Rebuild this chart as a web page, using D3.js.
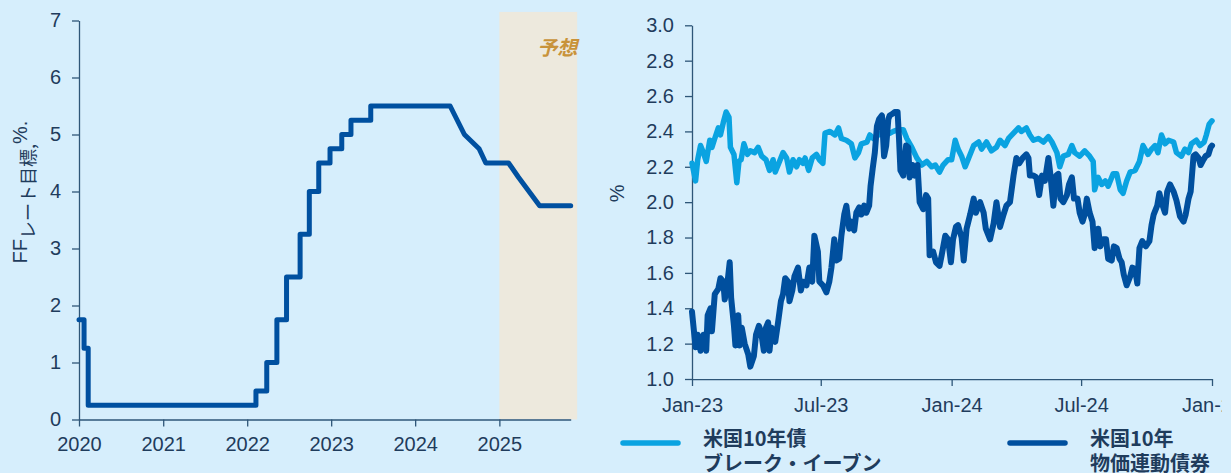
<!DOCTYPE html>
<html>
<head>
<meta charset="utf-8">
<script src="https://cdn.jsdelivr.net/npm/d3@7"></script>
<style>
  body { margin: 0; background: #d6eefc; }
  svg { display: block; font-family: "Liberation Sans", Arial, "Noto Sans CJK JP", sans-serif; }
  .axis .domain, .axis line { stroke: #2e5678; stroke-width: 1.3; }
  .axis text { fill: #1f3c5c; font-size: 20px; font-family: "Liberation Sans", Arial, sans-serif; }
</style>
</head>
<body>
<script>
// FF rate target (left panel), points of the drawn line
const ffDates = ["2020-01-01","2020-01-23","2020-01-23","2020-02-10","2020-02-10","2022-02-08","2022-02-08",
  "2022-03-27","2022-03-27","2022-05-10","2022-05-10","2022-06-21","2022-06-21","2022-08-19","2022-08-19",
  "2022-09-28","2022-09-28","2022-11-08","2022-11-08","2022-12-27","2022-12-27","2023-02-16","2023-02-16",
  "2023-03-28","2023-03-28","2023-06-22","2023-06-22","2024-06-01","2024-08-02","2024-10-05","2024-11-03",
  "2025-02-10","2025-03-25","2025-06-25","2025-11-07"];
const ffRates = [1.75,1.75,1.25,1.25,0.25,0.25,0.5,
  0.5,1.0,1.0,1.75,1.75,2.5,2.5,3.25,
  3.25,4.0,4.0,4.5,4.5,4.75,4.75,5.0,
  5.0,5.25,5.25,5.5,5.5,5.0,4.75,4.5,
  4.5,4.25,3.75,3.75];
const ffYears = [2020, 2021, 2022, 2023, 2024, 2025];
const ffTicks = [0, 1, 2, 3, 4, 5, 6, 7];

// right panel: readings as days after 2023-01-01
const beDays = [0,1,5,8,12,16,20,25,28,32,37,40,44,48,52,54,59,63,66,69,73,78,82,88,93,98,104,109,114,117,
  122,128,133,137,142,147,151,156,159,164,169,175,179,184,187,194,201,206,210,217,224,229,234,238,246,250,
  255,262,271,278,283,290,297,302,309,316,323,330,337,342,348,353,360,365,370,374,379,384,388,396,403,407,
  414,421,428,433,440,445,452,459,463,470,475,480,487,494,501,506,513,517,522,529,534,538,545,552,559,564,
  566,571,576,581,585,592,597,602,606,611,616,623,629,634,641,646,651,655,660,665,670,677,681,688,693,698,
  702,709,714,720,723,727,731];
const beValues = [2.22,2.20,2.12,2.24,2.32,2.28,2.23,2.35,2.31,2.36,2.42,2.38,2.45,2.51,2.48,2.31,2.27,2.11,2.23,2.24,
  2.33,2.27,2.29,2.28,2.31,2.26,2.24,2.18,2.24,2.17,2.22,2.28,2.25,2.17,2.24,2.20,2.24,2.22,2.25,2.18,
  2.25,2.27,2.24,2.22,2.39,2.40,2.38,2.42,2.36,2.35,2.33,2.25,2.28,2.33,2.34,2.38,2.36,2.38,2.40,2.39,
  2.40,2.41,2.41,2.36,2.31,2.25,2.21,2.23,2.20,2.21,2.17,2.21,2.24,2.24,2.35,2.30,2.26,2.20,2.24,2.32,
  2.34,2.30,2.34,2.29,2.31,2.35,2.32,2.36,2.39,2.42,2.40,2.42,2.38,2.35,2.36,2.34,2.37,2.34,2.28,2.20,
  2.26,2.27,2.32,2.28,2.26,2.29,2.26,2.23,2.07,2.14,2.10,2.12,2.09,2.16,2.16,2.07,2.05,2.12,2.17,2.18,
  2.23,2.32,2.27,2.30,2.32,2.28,2.38,2.33,2.35,2.34,2.28,2.26,2.30,2.28,2.33,2.35,2.32,2.34,2.38,2.44,
  2.46];
const tipsDays = [0,5,8,12,16,20,22,26,28,32,37,40,44,46,50,53,55,59,61,65,67,70,74,79,82,87,90,94,97,101,
  104,107,109,112,117,121,125,128,131,135,137,141,144,149,153,156,161,165,169,172,177,179,184,189,193,196,
  200,203,207,210,214,217,221,224,228,231,235,238,242,245,249,251,254,257,260,263,267,270,273,276,278,282,
  285,289,291,293,297,301,304,306,310,313,317,320,325,329,332,334,339,343,348,351,356,360,364,367,371,374,
  379,382,386,391,396,399,405,410,413,419,424,428,433,438,442,447,452,456,460,465,470,473,475,480,484,488,
  492,496,501,504,508,512,515,518,522,527,530,534,537,542,545,549,552,555,559,563,566,571,574,578,582,585,
  590,593,597,601,604,607,611,616,619,623,626,629,633,638,643,646,649,654,657,660,665,668,672,677,681,686,
  691,694,698,701,705,708,712,715,719,722,726,729,731];
const tipsValues = [1.38,1.18,1.25,1.16,1.25,1.16,1.36,1.40,1.27,1.48,1.51,1.57,1.55,1.45,1.55,1.66,1.46,1.30,1.19,1.36,
  1.19,1.29,1.20,1.14,1.07,1.13,1.25,1.30,1.27,1.16,1.29,1.32,1.16,1.29,1.21,1.32,1.44,1.48,1.57,1.55,
  1.44,1.50,1.58,1.63,1.50,1.55,1.53,1.63,1.55,1.81,1.72,1.55,1.53,1.49,1.55,1.63,1.79,1.67,1.68,1.81,
  1.93,1.98,1.85,1.89,1.84,1.94,1.97,1.93,1.98,1.94,1.98,2.09,2.19,2.28,2.43,2.47,2.49,2.26,2.32,2.47,
  2.49,2.50,2.51,2.51,2.36,2.18,2.15,2.32,2.31,2.14,2.21,2.15,2.21,2.00,1.96,2.04,2.02,1.70,1.72,1.66,
  1.64,1.70,1.81,1.79,1.66,1.79,1.86,1.87,1.80,1.67,1.85,1.93,2.02,1.94,2.00,1.94,1.85,1.79,1.88,2.00,
  1.86,1.93,1.98,2.00,2.15,2.25,2.22,2.25,2.27,2.25,2.15,2.15,2.14,2.04,2.15,2.12,2.25,2.15,1.98,2.15,
  2.16,2.02,2.00,2.04,2.10,2.14,2.02,2.02,1.94,1.89,1.93,2.02,1.94,1.89,1.74,1.85,1.75,1.79,1.79,1.68,
  1.67,1.75,1.74,1.68,1.66,1.59,1.53,1.58,1.63,1.62,1.54,1.74,1.78,1.75,1.78,1.87,1.93,1.98,2.05,2.00,
  1.94,2.06,2.10,2.06,2.01,1.92,1.89,1.93,2.02,2.06,2.26,2.27,2.25,2.21,2.24,2.26,2.27,2.31,2.32];
const rTicks = [1.0, 1.2, 1.4, 1.6, 1.8, 2.0, 2.2, 2.4, 2.6, 2.8, 3.0];

const parse = d3.timeParse("%Y-%m-%d");
const rStart = new Date(2023, 0, 1);
const width = 1231, height = 473;

const svg = d3.select("body").append("svg")
  .attr("width", width)
  .attr("height", height);

// ---------- left panel ----------
const xL = d3.scaleTime()
  .domain([new Date(2020, 0, 1), new Date(2025, 10, 7)])
  .range([79, 570.7]);
const yL = d3.scaleLinear().domain([0, 7]).range([419.5, 20.5]);

// forecast shading
svg.append("rect")
  .attr("x", xL(new Date(2025, 0, 1)))
  .attr("y", yL(7.15))
  .attr("width", xL(new Date(2025, 11, 5)) - xL(new Date(2025, 0, 1)))
  .attr("height", yL(0) - yL(7.15))
  .attr("fill", "#ede9dd");

svg.append("text")
  .attr("x", xL(new Date(2025, 11, 6)))
  .attr("y", yL(6.4))
  .attr("text-anchor", "end")
  .attr("font-size", "20px")
  .attr("font-weight", "bold")
  .attr("font-style", "italic")
  .attr("fill", "#c8933a")
  .style("font-family", "'Noto Sans CJK JP', sans-serif")
  .text("予想");

svg.append("g")
  .attr("class", "axis")
  .attr("transform", "translate(0," + yL(0) + ")")
  .call(d3.axisBottom(xL)
    .tickValues(ffYears.map(y => new Date(y, 0, 1)))
    .tickFormat(d3.timeFormat("%Y"))
    .tickSize(7).tickSizeOuter(0).tickPadding(10));

svg.append("g")
  .attr("class", "axis")
  .attr("transform", "translate(" + xL.range()[0] + ",0)")
  .call(d3.axisLeft(yL)
    .tickValues(ffTicks)
    .tickFormat(d3.format("d"))
    .tickSize(7).tickSizeOuter(0).tickPadding(11));

const ylab = svg.append("text")
  .attr("transform", "translate(27," + 192 + ") rotate(-90)")
  .attr("text-anchor", "middle")
  .attr("fill", "#1f3c5c")
  .attr("font-size", "20px");
ylab.append("tspan").text("FF");
ylab.append("tspan").attr("dy", 8).attr("font-size", "18px")
  .style("font-family", "'Noto Sans CJK JP', sans-serif").text("レート目標,");
ylab.append("tspan").attr("dy", -8).text("%.");

const ffLine = d3.line()
  .x((d, i) => xL(parse(ffDates[i])))
  .y(d => yL(d));

svg.append("path")
  .datum(ffRates)
  .attr("fill", "none")
  .attr("stroke", "#0050a0")
  .attr("stroke-width", 5)
  .attr("stroke-linejoin", "round")
  .attr("stroke-linecap", "round")
  .attr("d", ffLine);

// ---------- right panel ----------
const xR = d3.scaleTime()
  .domain([rStart, new Date(2025, 0, 1)])
  .range([692, 1212]);
const yR = d3.scaleLinear().domain([1, 3]).range([379, 25.3]);

// the source picture is cut just after "Jan-" of the last tick label
svg.append("clipPath").attr("id", "cut")
  .append("rect").attr("x", 0).attr("y", 0).attr("width", 1222).attr("height", height);

svg.append("g")
  .attr("class", "axis")
  .attr("clip-path", "url(#cut)")
  .attr("transform", "translate(0," + yR(1) + ")")
  .call(d3.axisBottom(xR)
    .tickValues(d3.timeMonth.every(6).range(rStart, new Date(2025, 0, 2)))
    .tickFormat(d3.timeFormat("%b-%y"))
    .tickSize(7).tickSizeOuter(0).tickPadding(12));

svg.append("g")
  .attr("class", "axis")
  .attr("transform", "translate(" + xR.range()[0] + ",0)")
  .call(d3.axisLeft(yR)
    .tickValues(rTicks)
    .tickFormat(d3.format(".1f"))
    .tickSize(7).tickSizeOuter(0).tickPadding(11));

svg.append("text")
  .attr("transform", "translate(624," + yR(2.05) + ") rotate(-90)")
  .attr("text-anchor", "middle")
  .attr("fill", "#1f3c5c")
  .attr("font-size", "20px")
  .text("%");

const series = [
  { name: ["米国10年債", "ブレーク・イーブン"], days: beDays, values: beValues, color: "#0aa3e1", w: 5.5, lx: 623 },
  { name: ["米国10年", "物価連動債券"], days: tipsDays, values: tipsValues, color: "#004f9e", w: 6, lx: 1010 }
];

series.forEach(s => {
  const line = d3.line()
    .x((d, i) => xR(d3.timeDay.offset(rStart, s.days[i])))
    .y(d => yR(d));
  svg.append("path")
    .datum(s.values)
    .attr("fill", "none")
    .attr("stroke", s.color)
    .attr("stroke-width", s.w)
    .attr("stroke-linejoin", "round")
    .attr("stroke-linecap", "round")
    .attr("d", line);
});

// legend
const legend = svg.append("g");
series.forEach(s => {
  legend.append("line")
    .attr("x1", s.lx).attr("x2", s.lx + 55)
    .attr("y1", 443).attr("y2", 443)
    .attr("stroke", s.color)
    .attr("stroke-width", 5.5)
    .attr("stroke-linecap", "round");
  const t = legend.append("text")
    .attr("x", s.lx + 80)
    .attr("y", 446)
    .attr("fill", "#1f3c5c")
    .attr("font-size", "20px")
    .attr("font-weight", "bold")
    .style("font-family", "'Noto Sans CJK JP', sans-serif");
  t.append("tspan").attr("x", s.lx + 80).text(s.name[0]);
  t.append("tspan").attr("x", s.lx + 80).attr("dy", 25).text(s.name[1]);
});
</script>
</body>
</html>
